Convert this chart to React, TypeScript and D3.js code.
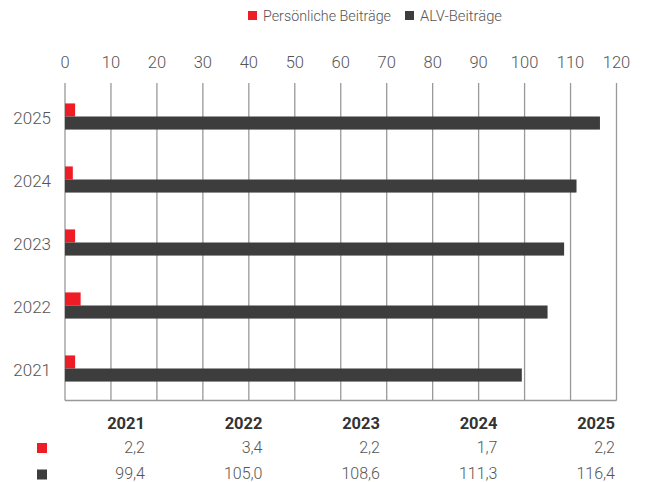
import React from "react";
import * as d3 from "d3";

const years = ["2021", "2022", "2023", "2024", "2025"];
const personal = [2.2, 3.4, 2.2, 1.7, 2.2];
const alv = [99.4, 105.0, 108.6, 111.3, 116.4];
const seriesNames = ["Persönliche Beiträge", "ALV-Beiträge"];
const seriesColors = ["#ee1c25", "#3d3d3d"];
const xTicks = [0, 10, 20, 30, 40, 50, 60, 70, 80, 90, 100, 110, 120];

const W = 647;
const H = 482;
const FONT = "Roboto, 'Liberation Sans', Arial, sans-serif";

export default function App() {
  const x = d3.scaleLinear().domain([0, 120]).range([65, 616.5]);
  const y = d3
    .scaleBand<string>()
    .domain([...years].reverse())
    .range([85, 400])
    .paddingInner(0.585)
    .paddingOuter(0.2925);
  const sub = d3
    .scaleBand<string>()
    .domain(["p", "a"])
    .range([0, y.bandwidth()]);
  const fmt = (v: number) => v.toFixed(1).replace(".", ",");

  const colX = d3.scalePoint<string>().domain(years).range([145, 615]);

  return (
    <svg
      width={W}
      height={H}
      style={{ position: "absolute", left: 0, top: 0, fontFamily: FONT }}
    >
      <rect width={W} height={H} fill="#fff" />
      {/* legend */}
      <rect x={248} y={11} width={9} height={9} fill={seriesColors[0]} />
      <text x={263} y={20.5} fontSize={15.5} fill="#555" fontWeight={300} textLength={128} lengthAdjust="spacingAndGlyphs">
        {seriesNames[0]}
      </text>
      <rect x={405} y={11} width={9} height={9} fill={seriesColors[1]} />
      <text x={420} y={20.5} fontSize={15.5} fill="#555" fontWeight={300} textLength={82} lengthAdjust="spacingAndGlyphs">
        {seriesNames[1]}
      </text>

      {/* top axis labels */}
      {xTicks.map((t) => (
        <text
          key={t}
          x={x(t)}
          y={68}
          textAnchor="middle"
          fontSize={16.5}
          fill="#555"
          fontWeight={300}
        >
          {t}
        </text>
      ))}
      {/* gridlines */}
      {xTicks.map((t) => (
        <line
          key={"g" + t}
          x1={x(t)}
          x2={x(t)}
          y1={83}
          y2={400.5}
          stroke="#999"
          strokeWidth={1.3}
        />
      ))}
      <line x1={x(0)} x2={x(120)} y1={400.5} y2={400.5} stroke="#999" strokeWidth={1.3} />

      {/* bars */}
      {years.map((yr, i) => {
        const y0 = y(yr)!;
        return (
          <g key={yr}>
            <rect
              x={x(0)}
              y={y0 + sub("p")!}
              width={x(personal[i]) - x(0)}
              height={sub.bandwidth()}
              fill={seriesColors[0]}
            />
            <rect
              x={x(0)}
              y={y0 + sub("a")!}
              width={x(alv[i]) - x(0)}
              height={sub.bandwidth()}
              fill={seriesColors[1]}
            />
            <text
              x={51}
              y={y0 + y.bandwidth() / 2 + 1}
              dominantBaseline="central"
              textAnchor="end"
              fontSize={17}
              fill="#555"
              fontWeight={300}
            >
              {yr}
            </text>
          </g>
        );
      })}

      {/* data table */}
      {years.map((yr, i) => (
        <g key={"t" + yr}>
          <text
            x={colX(yr)}
            y={429}
            textAnchor="end"
            fontSize={16.5}
            fontWeight={700}
            fill="#333"
          >
            {yr}
          </text>
          <text
            x={colX(yr)}
            y={452.5}
            textAnchor="end"
            fontSize={16}
            fontWeight={300}
            fill="#555"
          >
            {fmt(personal[i])}
          </text>
          <text
            x={colX(yr)}
            y={478.5}
            textAnchor="end"
            fontSize={16}
            fontWeight={300}
            fill="#555"
          >
            {fmt(alv[i])}
          </text>
        </g>
      ))}
      <rect x={37} y={443} width={10} height={10} fill={seriesColors[0]} />
      <rect x={37} y={469.5} width={10} height={10} fill={seriesColors[1]} />
    </svg>
  );
}
